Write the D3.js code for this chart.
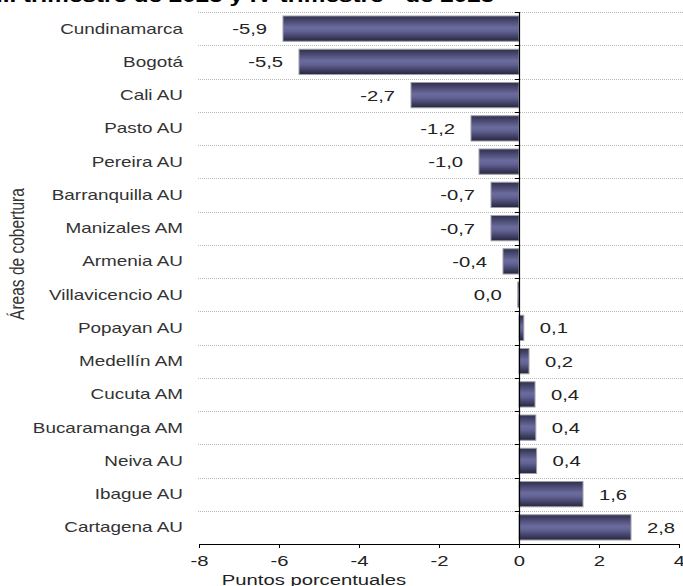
<!DOCTYPE html>
<html>
<head>
<meta charset="utf-8">
<script src="https://cdn.jsdelivr.net/npm/d3@7"></script>
<style>
  body { margin: 0; background: #fff; }
  svg { display: block; }
  text { font-family: "Liberation Sans", Arial, sans-serif; fill: #222; }
</style>
</head>
<body>
<div id="main"></div>
<script>
var width = 683,
    height = 586,
    stretch = 1.35; // the original picture is widened, text included

// areas, top to bottom
var areas = ["Cundinamarca", "Bogotá", "Cali AU", "Pasto AU", "Pereira AU",
  "Barranquilla AU", "Manizales AM", "Armenia AU", "Villavicencio AU",
  "Popayan AU", "Medellín AM", "Cucuta AM", "Bucaramanga AM", "Neiva AU",
  "Ibague AU", "Cartagena AU"];
var values = [-5.9, -5.5, -2.7, -1.2, -1.0, -0.7, -0.7, -0.4, -0.03,
  0.12, 0.25, 0.4, 0.42, 0.44, 1.6, 2.8];
var valueLabels = ["-5,9", "-5,5", "-2,7", "-1,2", "-1,0", "-0,7", "-0,7", "-0,4", "0,0",
  "0,1", "0,2", "0,4", "0,4", "0,4", "1,6", "2,8"];
var xTicks = [-8, -6, -4, -2, 0, 2, 4];

var svg = d3.select("#main").append("svg")
    .attr("width", width)
    .attr("height", height);

var defs = svg.append("defs");
var grad = defs.append("linearGradient")
    .attr("id", "barGrad")
    .attr("x1", 0).attr("y1", 0).attr("x2", 0).attr("y2", 1);
grad.append("stop").attr("offset", "0%").attr("stop-color", "#2f2f4e");
grad.append("stop").attr("offset", "45%").attr("stop-color", "#6b6b9e");
grad.append("stop").attr("offset", "60%").attr("stop-color", "#626294");
grad.append("stop").attr("offset", "100%").attr("stop-color", "#26263f");

var x = d3.scaleLinear()
    .domain([-8, 4])
    .range([199, 679]);

var y = d3.scaleBand()
    .domain(areas)
    .range([12, 544])
    .paddingInner(0.24)
    .paddingOuter(0.12);

var top0 = 12,
    bottom0 = 544;

// put a widened text at (px, py)
function wideText(parent, px, py, anchor) {
  return parent.append("g")
      .attr("transform", "translate(" + px + "," + py + ") scale(" + stretch + ",1)")
    .append("text")
      .attr("text-anchor", anchor);
}

// dotted gridlines between rows
var gridY = areas.map(function(d) { return y(d) - y.step() * y.paddingOuter(); });
svg.append("g").selectAll("line")
    .data(gridY)
    .enter()
    .append("line")
    .attr("x1", 198).attr("x2", width)
    .attr("y1", function(d) { return Math.round(d) + 0.5; })
    .attr("y2", function(d) { return Math.round(d) + 0.5; })
    .attr("stroke", "#b8b8b8")
    .attr("stroke-dasharray", "1,1");

// bars
svg.append("g").selectAll("rect")
    .data(areas)
    .enter()
    .append("rect")
    .attr("x", function(d, i) { return x(Math.min(0, values[i])); })
    .attr("y", function(d) { return y(d); })
    .attr("width", function(d, i) { return Math.max(1.5, Math.abs(x(values[i]) - x(0))); })
    .attr("height", y.bandwidth())
    .attr("fill", "url(#barGrad)")
    .attr("stroke", "#a0a0a8")
    .attr("stroke-width", 1);

// value labels
var valG = svg.append("g");
areas.forEach(function(d, i) {
  var neg = values[i] < 0;
  wideText(valG, neg ? x(values[i]) - 16 : x(values[i]) + 16, y(d) + y.bandwidth() / 2, neg ? "end" : "start")
      .attr("dy", "0.36em")
      .style("font-size", "15px")
      .text(valueLabels[i]);
});

// category labels
var catG = svg.append("g");
areas.forEach(function(d) {
  wideText(catG, 183, y(d) + y.bandwidth() / 2, "end")
      .attr("dy", "0.36em")
      .style("font-size", "14px")
      .style("fill", "#333")
      .text(d);
});

// vertical axis at zero
var zeroAxis = svg.append("g");
zeroAxis.append("line")
    .attr("x1", x(0) + 0.5).attr("x2", x(0) + 0.5)
    .attr("y1", top0).attr("y2", bottom0)
    .attr("stroke", "#000").attr("stroke-width", 1.2);
zeroAxis.selectAll(".tk")
    .data(gridY)
    .enter()
    .append("line")
    .attr("class", "tk")
    .attr("x1", x(0) - 4).attr("x2", x(0))
    .attr("y1", function(d) { return Math.round(d) + 0.5; })
    .attr("y2", function(d) { return Math.round(d) + 0.5; })
    .attr("stroke", "#000");

// bottom axis
var xAxis = d3.axisBottom(x)
    .tickValues(xTicks)
    .tickSize(4)
    .tickSizeOuter(0)
    .tickFormat(function(d) { return String(d); });

var gx = svg.append("g")
    .attr("transform", "translate(0," + bottom0 + ")")
    .call(xAxis);
gx.select(".domain").attr("stroke", "#000").attr("stroke-width", 1.2);
gx.selectAll(".tick line").attr("stroke", "#000");
gx.selectAll(".tick text")
    .attr("y", 11)
    .attr("transform", "scale(" + stretch + ",1)")
    .style("font-size", "15px")
    .style("font-family", "Liberation Sans, Arial, sans-serif")
    .attr("fill", "#222");

// axis titles
wideText(svg, 314, 585, "middle")
    .style("font-size", "15px")
    .text("Puntos porcentuales");

svg.append("g")
    .attr("transform", "translate(24,254) scale(" + stretch + ",1) rotate(-90)")
  .append("text")
    .attr("text-anchor", "middle")
    .style("font-size", "15.5px")
    .style("fill", "#333")
    .text("Áreas de cobertura");

// title, cut at the top edge
var title = wideText(svg, -4, 2, "start")
    .style("font-size", "18px")
    .style("font-weight", "bold")
    .style("fill", "#000");
title.append("tspan").text("III trimestre de 2023 y IV trimestre ");
title.append("tspan").attr("dy", -6).style("font-size", "10px").text("p");
title.append("tspan").attr("dy", 6).text(" de 2023");
</script>
</body>
</html>
